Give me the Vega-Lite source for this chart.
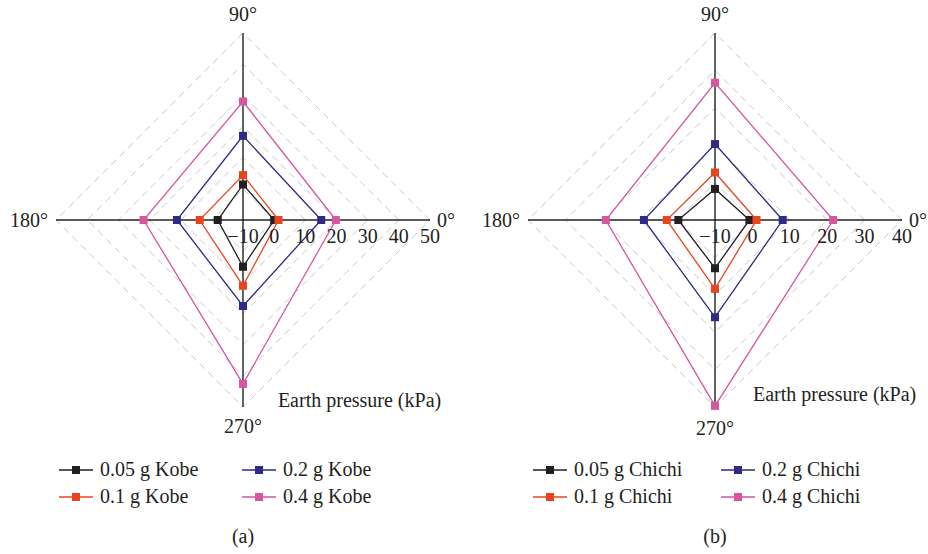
{
  "$schema": "https://vega.github.io/schema/vega-lite/v6.json",
  "padding": 0,
  "spacing": 0,
  "config": {
    "view": {"stroke": null},
    "text": {"font": "Liberation Serif", "fontSize": 20, "color": "#231f20"}
  },
  "datasets": {
    "one": [{}],
    "pts": [
      {"panel": "a", "s": "0.05 g Kobe", "ang": 0, "p": 0.0},
      {"panel": "a", "s": "0.05 g Kobe", "ang": 90, "p": 1.4},
      {"panel": "a", "s": "0.05 g Kobe", "ang": 180, "p": -1.9},
      {"panel": "a", "s": "0.05 g Kobe", "ang": 270, "p": 5.0},
      {"panel": "a", "s": "0.1 g Kobe", "ang": 0, "p": 1.4},
      {"panel": "a", "s": "0.1 g Kobe", "ang": 90, "p": 4.4},
      {"panel": "a", "s": "0.1 g Kobe", "ang": 180, "p": 3.9},
      {"panel": "a", "s": "0.1 g Kobe", "ang": 270, "p": 11.1},
      {"panel": "a", "s": "0.2 g Kobe", "ang": 0, "p": 15.1},
      {"panel": "a", "s": "0.2 g Kobe", "ang": 90, "p": 17.0},
      {"panel": "a", "s": "0.2 g Kobe", "ang": 180, "p": 11.2},
      {"panel": "a", "s": "0.2 g Kobe", "ang": 270, "p": 17.6},
      {"panel": "a", "s": "0.4 g Kobe", "ang": 0, "p": 19.8},
      {"panel": "a", "s": "0.4 g Kobe", "ang": 90, "p": 28.0},
      {"panel": "a", "s": "0.4 g Kobe", "ang": 180, "p": 21.9},
      {"panel": "a", "s": "0.4 g Kobe", "ang": 270, "p": 42.6},
      {"panel": "b", "s": "0.05 g Chichi", "ang": 0, "p": -0.8},
      {"panel": "b", "s": "0.05 g Chichi", "ang": 90, "p": -1.7},
      {"panel": "b", "s": "0.05 g Chichi", "ang": 180, "p": -0.2},
      {"panel": "b", "s": "0.05 g Chichi", "ang": 270, "p": 2.9},
      {"panel": "b", "s": "0.1 g Chichi", "ang": 0, "p": 1.1},
      {"panel": "b", "s": "0.1 g Chichi", "ang": 90, "p": 2.7},
      {"panel": "b", "s": "0.1 g Chichi", "ang": 180, "p": 2.9},
      {"panel": "b", "s": "0.1 g Chichi", "ang": 270, "p": 8.4},
      {"panel": "b", "s": "0.2 g Chichi", "ang": 0, "p": 8.1},
      {"panel": "b", "s": "0.2 g Chichi", "ang": 90, "p": 10.3},
      {"panel": "b", "s": "0.2 g Chichi", "ang": 180, "p": 9.0},
      {"panel": "b", "s": "0.2 g Chichi", "ang": 270, "p": 16.0},
      {"panel": "b", "s": "0.4 g Chichi", "ang": 0, "p": 21.6},
      {"panel": "b", "s": "0.4 g Chichi", "ang": 90, "p": 26.7},
      {"panel": "b", "s": "0.4 g Chichi", "ang": 180, "p": 19.2},
      {"panel": "b", "s": "0.4 g Chichi", "ang": 270, "p": 39.7}
    ],
    "grid": [
      {"panel": "a", "lv": 0, "ang": [0, 90, 180, 270]},
      {"panel": "a", "lv": 10, "ang": [0, 90, 180, 270]},
      {"panel": "a", "lv": 20, "ang": [0, 90, 180, 270]},
      {"panel": "a", "lv": 30, "ang": [0, 90, 180, 270]},
      {"panel": "a", "lv": 40, "ang": [0, 90, 180, 270]},
      {"panel": "a", "lv": 50, "ang": [0, 90, 180, 270]},
      {"panel": "b", "lv": 0, "ang": [0, 90, 180, 270]},
      {"panel": "b", "lv": 10, "ang": [0, 90, 180, 270]},
      {"panel": "b", "lv": 20, "ang": [0, 90, 180, 270]},
      {"panel": "b", "lv": 30, "ang": [0, 90, 180, 270]},
      {"panel": "b", "lv": 40, "ang": [0, 90, 180, 270]}
    ],
    "ticks": [
      {"panel": "a", "v": -10, "lab": "−10"},
      {"panel": "a", "v": 0, "lab": "0"},
      {"panel": "a", "v": 10, "lab": "10"},
      {"panel": "a", "v": 20, "lab": "20"},
      {"panel": "a", "v": 30, "lab": "30"},
      {"panel": "a", "v": 40, "lab": "40"},
      {"panel": "a", "v": 50, "lab": "50"},
      {"panel": "b", "v": -10, "lab": "−10"},
      {"panel": "b", "v": 0, "lab": "0"},
      {"panel": "b", "v": 10, "lab": "10"},
      {"panel": "b", "v": 20, "lab": "20"},
      {"panel": "b", "v": 30, "lab": "30"},
      {"panel": "b", "v": 40, "lab": "40"}
    ]
  },
  "resolve": {"scale": {"color": "independent", "x": "independent", "y": "independent"}, "legend": {"color": "independent"}},
  "hconcat": [
    {
      "width": 464,
      "height": 554,
      "encoding": {
        "x": {"type": "quantitative", "scale": {"domain": [-77.968, 70.909], "nice": false, "zero": false}, "axis": null},
        "y": {"type": "quantitative", "scale": {"domain": [-107.166, 70.588], "nice": false, "zero": false}, "axis": null}
      },
      "layer": [
        {
          "data": {"name": "grid"},
          "transform": [
            {"filter": "datum.panel === 'a'"},
            {"flatten": ["ang"]},
            {"calculate": "(datum.lv + 10) * cos(datum.ang * PI / 180)", "as": "x"},
            {"calculate": "(datum.lv + 10) * sin(datum.ang * PI / 180)", "as": "y"}
          ],
          "mark": {"type": "line", "interpolate": "linear-closed", "color": "#c8c8c8", "strokeWidth": 1, "strokeDash": [7, 5]},
          "encoding": {
            "x": {"field": "x", "type": "quantitative"},
            "y": {"field": "y", "type": "quantitative"},
            "detail": {"field": "lv"},
            "order": {"field": "ang"}
          }
        },
        {
          "data": {"name": "one"},
          "mark": {"type": "rule", "color": "#222222", "strokeWidth": 1.4},
          "encoding": {"x": {"datum": -60}, "x2": {"datum": 60}, "y": {"datum": 0}}
        },
        {
          "data": {"name": "one"},
          "mark": {"type": "rule", "color": "#222222", "strokeWidth": 1.4},
          "encoding": {"y": {"datum": -60}, "y2": {"datum": 60}, "x": {"datum": 0}}
        },
        {
          "data": {"name": "pts"},
          "transform": [
            {"filter": "datum.panel === 'a'"},
            {"calculate": "(datum.p + 10) * cos(datum.ang * PI / 180)", "as": "x"},
            {"calculate": "(datum.p + 10) * sin(datum.ang * PI / 180)", "as": "y"}
          ],
          "encoding": {
            "x": {"field": "x", "type": "quantitative"},
            "y": {"field": "y", "type": "quantitative"},
            "color": {"field": "s", "type": "nominal",
              "scale": {"domain": ["0.05 g Kobe", "0.1 g Kobe", "0.2 g Kobe", "0.4 g Kobe"], "range": ["#231f20", "#e8451e", "#2e2a86", "#d4579f"]},
              "legend": {"orient": "none", "legendX": 66, "legendY": 460, "columns": 2, "title": null,
                "symbolType": "M-3.4,-0.16H3.4V0.16H-3.4Z M-0.8,-0.8H0.8V0.8H-0.8Z", "symbolSize": 100, "symbolStrokeWidth": 0,
                "symbolOpacity": 1,
                "labelOffset": 14, "labelFont": "Liberation Serif", "labelFontSize": 20, "labelColor": "#231f20",
                "columnPadding": 43, "rowPadding": 7, "padding": 0, "labelLimit": 0}}
          },
          "layer": [
            {
              "mark": {"type": "line", "interpolate": "linear-closed", "strokeWidth": 1.3},
              "encoding": {"order": {"field": "ang"}}
            },
            {
              "mark": {"type": "point", "shape": "square", "filled": true, "size": 64, "opacity": 1}
            }
          ]
        },
        {
          "data": {"name": "ticks"},
          "transform": [{"filter": "datum.panel === 'a'"}, {"calculate": "datum.v + 10", "as": "x"}],
          "mark": {"type": "text", "align": "center", "baseline": "alphabetic", "dy": 23},
          "encoding": {"x": {"field": "x", "type": "quantitative"}, "y": {"datum": 0}, "text": {"field": "lab"}}
        },
        {
          "data": {"name": "one"},
          "mark": {"type": "text", "align": "center", "baseline": "alphabetic", "dy": -12},
          "encoding": {"x": {"datum": 0}, "y": {"datum": 60}, "text": {"value": "90°"}}
        },
        {
          "data": {"name": "one"},
          "mark": {"type": "text", "align": "center", "baseline": "alphabetic", "dy": 26},
          "encoding": {"x": {"datum": 0}, "y": {"datum": -60}, "text": {"value": "270°"}}
        },
        {
          "data": {"name": "one"},
          "mark": {"type": "text", "align": "left", "baseline": "alphabetic", "dx": 7, "dy": 7},
          "encoding": {"x": {"datum": 60}, "y": {"datum": 0}, "text": {"value": "0°"}}
        },
        {
          "data": {"name": "one"},
          "mark": {"type": "text", "align": "right", "baseline": "alphabetic", "dx": -8, "dy": 7},
          "encoding": {"x": {"datum": -60}, "y": {"datum": 0}, "text": {"value": "180°"}}
        },
        {
          "data": {"name": "one"},
          "mark": {"type": "text", "align": "left", "baseline": "alphabetic"},
          "encoding": {"x": {"datum": 11.2}, "y": {"datum": -60}, "text": {"value": "Earth pressure (kPa)"}}
        },
        {
          "data": {"name": "one"},
          "mark": {"type": "text", "align": "center", "baseline": "alphabetic"},
          "encoding": {"x": {"datum": 0}, "y": {"datum": -103.6}, "text": {"value": "(a)"}}
        }
      ]
    },
    {
      "width": 464,
      "height": 554,
      "encoding": {
        "x": {"type": "quantitative", "scale": {"domain": [-67.11, 56.95], "nice": false, "zero": false}, "axis": null},
        "y": {"type": "quantitative", "scale": {"domain": [-89.3, 58.82], "nice": false, "zero": false}, "axis": null}
      },
      "layer": [
        {
          "data": {"name": "grid"},
          "transform": [
            {"filter": "datum.panel === 'b'"},
            {"flatten": ["ang"]},
            {"calculate": "(datum.lv + 10) * cos(datum.ang * PI / 180)", "as": "x"},
            {"calculate": "(datum.lv + 10) * sin(datum.ang * PI / 180)", "as": "y"}
          ],
          "mark": {"type": "line", "interpolate": "linear-closed", "color": "#c8c8c8", "strokeWidth": 1, "strokeDash": [7, 5]},
          "encoding": {
            "x": {"field": "x", "type": "quantitative"},
            "y": {"field": "y", "type": "quantitative"},
            "detail": {"field": "lv"},
            "order": {"field": "ang"}
          }
        },
        {
          "data": {"name": "one"},
          "mark": {"type": "rule", "color": "#222222", "strokeWidth": 1.4},
          "encoding": {"x": {"datum": -50}, "x2": {"datum": 50}, "y": {"datum": 0}}
        },
        {
          "data": {"name": "one"},
          "mark": {"type": "rule", "color": "#222222", "strokeWidth": 1.4},
          "encoding": {"y": {"datum": -50}, "y2": {"datum": 50}, "x": {"datum": 0}}
        },
        {
          "data": {"name": "pts"},
          "transform": [
            {"filter": "datum.panel === 'b'"},
            {"calculate": "(datum.p + 10) * cos(datum.ang * PI / 180)", "as": "x"},
            {"calculate": "(datum.p + 10) * sin(datum.ang * PI / 180)", "as": "y"}
          ],
          "encoding": {
            "x": {"field": "x", "type": "quantitative"},
            "y": {"field": "y", "type": "quantitative"},
            "color": {"field": "s", "type": "nominal",
              "scale": {"domain": ["0.05 g Chichi", "0.1 g Chichi", "0.2 g Chichi", "0.4 g Chichi"], "range": ["#231f20", "#e8451e", "#2e2a86", "#d4579f"]},
              "legend": {"orient": "none", "legendX": 76, "legendY": 460, "columns": 2, "title": null,
                "symbolType": "M-3.4,-0.16H3.4V0.16H-3.4Z M-0.8,-0.8H0.8V0.8H-0.8Z", "symbolSize": 100, "symbolStrokeWidth": 0,
                "symbolOpacity": 1,
                "labelOffset": 14, "labelFont": "Liberation Serif", "labelFontSize": 20, "labelColor": "#231f20",
                "columnPadding": 38, "rowPadding": 7, "padding": 0, "labelLimit": 0}}
          },
          "layer": [
            {
              "mark": {"type": "line", "interpolate": "linear-closed", "strokeWidth": 1.3},
              "encoding": {"order": {"field": "ang"}}
            },
            {
              "mark": {"type": "point", "shape": "square", "filled": true, "size": 64, "opacity": 1}
            }
          ]
        },
        {
          "data": {"name": "ticks"},
          "transform": [{"filter": "datum.panel === 'b'"}, {"calculate": "datum.v + 10", "as": "x"}],
          "mark": {"type": "text", "align": "center", "baseline": "alphabetic", "dy": 23},
          "encoding": {"x": {"field": "x", "type": "quantitative"}, "y": {"datum": 0}, "text": {"field": "lab"}}
        },
        {
          "data": {"name": "one"},
          "mark": {"type": "text", "align": "center", "baseline": "alphabetic", "dy": -12},
          "encoding": {"x": {"datum": 0}, "y": {"datum": 50}, "text": {"value": "90°"}}
        },
        {
          "data": {"name": "one"},
          "mark": {"type": "text", "align": "center", "baseline": "alphabetic", "dy": 28},
          "encoding": {"x": {"datum": 0}, "y": {"datum": -50}, "text": {"value": "270°"}}
        },
        {
          "data": {"name": "one"},
          "mark": {"type": "text", "align": "left", "baseline": "alphabetic", "dx": 7, "dy": 7},
          "encoding": {"x": {"datum": 50}, "y": {"datum": 0}, "text": {"value": "0°"}}
        },
        {
          "data": {"name": "one"},
          "mark": {"type": "text", "align": "right", "baseline": "alphabetic", "dx": -8, "dy": 7},
          "encoding": {"x": {"datum": -50}, "y": {"datum": 0}, "text": {"value": "180°"}}
        },
        {
          "data": {"name": "one"},
          "mark": {"type": "text", "align": "left", "baseline": "alphabetic"},
          "encoding": {"x": {"datum": 10.16}, "y": {"datum": -48.4}, "text": {"value": "Earth pressure (kPa)"}}
        },
        {
          "data": {"name": "one"},
          "mark": {"type": "text", "align": "center", "baseline": "alphabetic"},
          "encoding": {"x": {"datum": 0}, "y": {"datum": -86.4}, "text": {"value": "(b)"}}
        }
      ]
    }
  ]
}
